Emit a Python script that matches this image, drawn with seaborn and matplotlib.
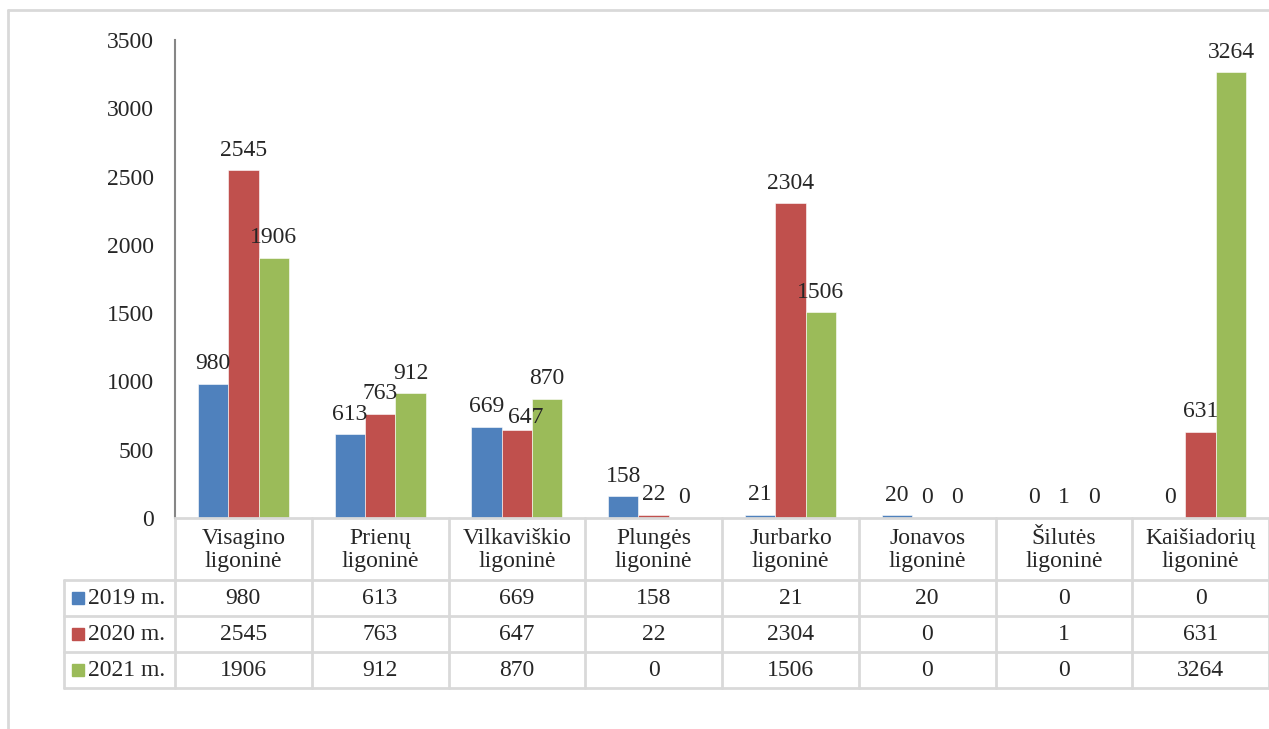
import matplotlib.pyplot as plt
import matplotlib.transforms as mtransforms
import matplotlib.patches as mpatches
from matplotlib.lines import Line2D
import pandas as pd
import seaborn as sns

# duomenys
hospitals = ['Visagino\nligoninė', 'Prienų\nligoninė', 'Vilkaviškio\nligoninė', 'Plungės\nligoninė',
             'Jurbarko\nligoninė', 'Jonavos\nligoninė', 'Šilutės\nligoninė', 'Kaišiadorių\nligoninė']
years = ['2019 m.', '2020 m.', '2021 m.']
v2019 = [980, 613, 669, 158, 21, 20, 0, 0]
v2020 = [2545, 763, 647, 22, 2304, 0, 1, 631]
v2021 = [1906, 912, 870, 0, 1506, 0, 0, 3264]
colors = ['#4F81BD', '#C0504D', '#9BBB59']

series = [v2019, v2020, v2021]
df = pd.DataFrame({
    'hospital': hospitals * 3,
    'year': [y for y in years for _ in hospitals],
    'value': v2019 + v2020 + v2021,
})

sns.set_style('white')
plt.rcParams['font.family'] = ['Liberation Serif', 'DejaVu Serif']
FS = 17
GRID = '#d9d9d9'

W, H = 1269, 729
fig = plt.figure(figsize=(W / 100, H / 100), dpi=100)
ax = fig.add_axes([175 / W, 1 - 518 / H, (1269 - 175) / W, (518 - 40) / H])

sns.barplot(data=df, x='hospital', y='value', hue='year', palette=colors, saturation=1,
            width=0.665, edgecolor='white', linewidth=0.4, legend=False, ax=ax)

labels = []
for cont, vals in zip(ax.containers, series):
    labels.append(ax.bar_label(cont, labels=[str(v) for v in vals], padding=7, fontsize=FS))

# kaip Excel'yje: 647 etiketė pastumta, kad nesutaptų su 669
labels[1][2].xyann = (6, 1)

ax.set_xlim(-0.5, 7.5)
ax.set_ylim(0, 3500)
ax.set_yticks(range(0, 3501, 500))
ax.tick_params(axis='y', length=0, pad=15, labelsize=FS)
ax.set_xticks([])
ax.set_xlabel('')
ax.set_ylabel('')
for s in ['top', 'right']:
    ax.spines[s].set_visible(False)
ax.spines['left'].set_color('#868686')
ax.spines['left'].set_linewidth(1.5)
ax.spines['bottom'].set_color(GRID)
ax.spines['bottom'].set_linewidth(2)

# duomenų lentelė po grafiku
tr = mtransforms.blended_transform_factory(ax.transData, ax.transAxes)


def ay(py):
    return (518 - py) / 478


def dx(px):
    return -0.5 + (px - 175) / 136.75


rows_y = [580, 616, 652, 688]
for py in rows_y:
    ax.add_line(Line2D([dx(64), 7.5], [ay(py)] * 2, transform=tr, color=GRID, lw=2, clip_on=False))
for k in range(9):
    ax.add_line(Line2D([k - 0.5] * 2, [ay(518), ay(688)], transform=tr, color=GRID, lw=2, clip_on=False))
ax.add_line(Line2D([dx(64)] * 2, [ay(580), ay(688)], transform=tr, color=GRID, lw=2, clip_on=False))

for i, name in enumerate(hospitals):
    ax.text(i, ay(550), name, transform=tr, ha='center', va='center', fontsize=FS, linespacing=1.15)

row_centers = [598, 634, 670]
for yr, vals, col, py in zip(years, series, colors, row_centers):
    ax.add_patch(mpatches.Rectangle((dx(72), ay(py + 6)), dx(84) - dx(72), ay(py - 6) - ay(py + 6),
                                    transform=tr, color=col, clip_on=False))
    ax.text(dx(88), ay(py), yr, transform=tr, ha='left', va='center', fontsize=FS)
    for i, v in enumerate(vals):
        ax.text(i, ay(py), str(v), transform=tr, ha='center', va='center', fontsize=FS)

# rėmelis aplink diagramą
fig.add_artist(Line2D([8 / W, 8 / W], [0, 1 - 10 / H], color=GRID, lw=2))
fig.add_artist(Line2D([8 / W, 1], [1 - 10 / H, 1 - 10 / H], color=GRID, lw=2))

fig.savefig('out.png', dpi=100)
